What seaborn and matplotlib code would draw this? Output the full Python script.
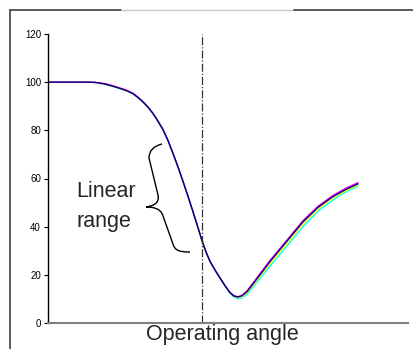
import numpy as np
import pandas as pd
import matplotlib
matplotlib.use("Agg")
import matplotlib.pyplot as plt
import seaborn as sns
from matplotlib.path import Path
from matplotlib.patches import PathPatch
from matplotlib.lines import Line2D

# operating angle (arbitrary units) and response of the four traces
angle = [0, 20, 40, 47, 52, 58, 65, 72, 79, 85, 90, 95, 100, 105, 110, 115,
         120, 125, 130, 135, 140, 145, 150, 154, 158, 162, 167, 172, 177, 182,
         186, 190, 194, 199, 205, 212, 222, 232, 244, 255, 270, 285, 298, 310]
navy = [100, 100, 100, 99.9, 99.6, 99.1, 98.3, 97.4, 96.4, 95.2, 93.6, 91.8,
        89.6, 87, 83.8, 80.3, 75.8, 70.4, 64.8, 58.8, 52.6, 46.2, 39.6, 34.2,
        29.5, 25.6, 22, 18.7, 15.5, 12.6, 11.2, 10.8, 11.3, 13, 16.2, 20, 25.5,
        30.5, 36.5, 42, 48, 52.5, 55.5, 57.8]
magenta = [100, 100, 100, 99.9, 99.7, 99.3, 98.5, 97.6, 96.6, 95.4, 93.8, 91.9,
           89.7, 87, 83.8, 80.3, 75.8, 70.4, 64.8, 58.8, 52.6, 46.2, 39.6, 34.2,
           29.5, 25.6, 22, 18.7, 15.5, 12.7, 11.3, 10.9, 11.5, 13.3, 16.6, 20.5,
           26, 31, 37, 42.5, 48.5, 53, 56, 58.3]
yellow = [100, 100, 100, 99.9, 99.6, 99.1, 98.3, 97.4, 96.4, 95.2, 93.6, 91.8,
          89.6, 87, 83.8, 80.3, 75.8, 70.4, 64.8, 58.8, 52.6, 46.2, 39.6, 34.2,
          29.5, 25.6, 22, 18.7, 15.5, 12.4, 11, 10.5, 10.9, 12.5, 15.6, 19.3,
          24.6, 29.6, 35.6, 41.1, 47.3, 51.9, 55, 57.3]
cyan = [100, 100, 100, 99.9, 99.5, 99, 98.2, 97.3, 96.3, 95.1, 93.5, 91.7,
        89.5, 86.9, 83.7, 80.2, 75.7, 70.3, 64.7, 58.7, 52.5, 46.1, 39.5, 34.1,
        29.4, 25.5, 21.9, 18.6, 15.4, 12.2, 10.7, 10.1, 10.4, 11.9, 14.9, 18.5,
        23.6, 28.6, 34.6, 40.1, 46.5, 51.1, 54.5, 56.8]
operating_point = 154
yticks = [0, 20, 40, 60, 80, 100, 120]

series = {"cyan": cyan, "yellow": yellow, "magenta": magenta, "navy": navy}
df = pd.concat([pd.DataFrame({"angle": angle, "value": v, "trace": k})
                for k, v in series.items()], ignore_index=True)

sns.set_style("white")
plt.rcParams['font.family'] = ['Liberation Sans', 'DejaVu Sans']

W, H = 414, 349
fig = plt.figure(figsize=(W / 100, H / 100), dpi=100)
ax = fig.add_axes([48 / W, 1 - 323 / H, 360 / W, (323 - 34) / H])

pal = {"cyan": "#00FFFF", "yellow": "#FFFF00", "magenta": "#FF00FF", "navy": "#000080"}
sns.lineplot(data=df, x="angle", y="value", hue="trace", palette=pal,
             estimator=None, sort=False, linewidth=1.0, legend=False, ax=ax)

ax.axvline(operating_point, color="#333333", linestyle="-.", linewidth=0.9)

ax.set_xlim(0, 360)
ax.set_ylim(0, 120)
ax.set_yticks(yticks)
ax.set_xticks([])
ax.set_xlabel("")
ax.set_ylabel("")
ax.tick_params(axis="y", labelsize=7, length=3, width=0.8, pad=2,
               direction="out", left=True, colors="black")
for s in ["top", "right"]:
    ax.spines[s].set_visible(False)
ax.spines["left"].set_color("black")
ax.spines["left"].set_linewidth(1.0)
ax.spines["bottom"].set_color("#808080")
ax.spines["bottom"].set_linewidth(1.5)


def fp(x, y):
    return (x / W, 1 - y / H)


# outer frame pieces
fig.add_artist(Line2D([10 / W, 10 / W], [0, 1 - 10 / H], color="#404040",
                      linewidth=1.2, transform=fig.transFigure))
fig.add_artist(Line2D([10 / W, 121 / W], [1 - 10 / H] * 2, color="#404040",
                      linewidth=1.2, transform=fig.transFigure))
fig.add_artist(Line2D([121 / W, 294 / W], [1 - 10 / H] * 2, color="#c8c8c8",
                      linewidth=1.0, transform=fig.transFigure))
fig.add_artist(Line2D([294 / W, 1], [1 - 10 / H] * 2, color="#404040",
                      linewidth=1.2, transform=fig.transFigure))

# curly brace
verts = [fp(162, 144), fp(149, 147), fp(149, 158),
         fp(158, 195),
         fp(160, 204), fp(152, 206), fp(146, 207),
         fp(152, 207), fp(161, 208), fp(163, 216),
         fp(173, 244),
         fp(175, 251), fp(180, 252), fp(190, 252)]
codes = [Path.MOVETO, Path.CURVE3, Path.CURVE3,
         Path.LINETO,
         Path.CURVE4, Path.CURVE4, Path.CURVE4,
         Path.CURVE4, Path.CURVE4, Path.CURVE4,
         Path.LINETO,
         Path.CURVE4, Path.CURVE4, Path.CURVE4]
fig.add_artist(PathPatch(Path(verts, codes), fill=False, edgecolor="black",
                         linewidth=1.0, transform=fig.transFigure))

fig.text(*fp(76, 197), "Linear", fontsize=15.5, ha="left", va="baseline")
fig.text(*fp(76, 227), "range", fontsize=15.5, ha="left", va="baseline")
fig.text(*fp(222, 340), "Operating angle", fontsize=15.5, ha="center", va="baseline")

fig.savefig("out.png", dpi=100)
